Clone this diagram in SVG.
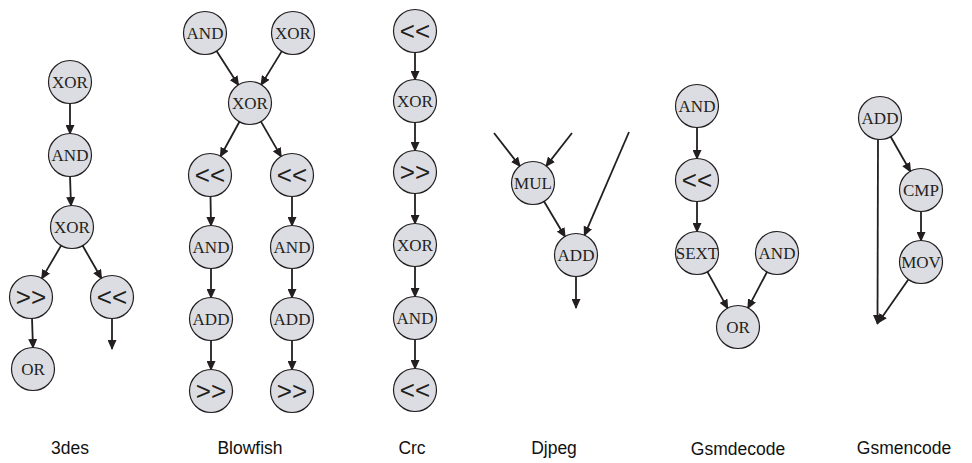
<svg xmlns="http://www.w3.org/2000/svg" width="972" height="463" viewBox="0 0 972 463">
  <style>
    .node circle { fill: #dcdde2; stroke: #231f20; stroke-width: 1.2; }
    .node text { font-family: "Liberation Serif", "Times New Roman", serif; font-size: 17px; fill: #231f20; text-anchor: middle; dominant-baseline: central; }
    .node text.op { font-family: "Liberation Sans", Arial, sans-serif; font-size: 26px; }
    .edges line { stroke: #231f20; stroke-width: 1.8; marker-end: url(#arrow); }
    .caption { font-family: "Liberation Sans", Arial, sans-serif; font-size: 17.5px; fill: #111; text-anchor: middle; }
  </style>
  <defs>
    <marker id="arrow" markerUnits="userSpaceOnUse" markerWidth="10" markerHeight="9" refX="9" refY="4.5" orient="auto">
      <path d="M0,0 L10,4.5 L0,9 z" fill="#231f20"/>
    </marker>
  </defs>
  <rect width="972" height="463" fill="#ffffff"/>

  <!-- connectors -->
  <g id="connectors" class="edges">
    <!-- 3des -->
    <line x1="70" y1="103" x2="70" y2="134"/>
    <line x1="70" y1="176" x2="71" y2="206"/>
    <line x1="61.4" y1="245.1" x2="41.6" y2="278.9"/>
    <line x1="82.4" y1="245.2" x2="101.6" y2="278.8"/>
    <line x1="32" y1="318" x2="33" y2="348"/>
    <line x1="112" y1="318" x2="112" y2="349"/>
    <!-- Blowfish -->
    <line x1="216.4" y1="50.7" x2="238.6" y2="85.3"/>
    <line x1="282" y1="50.9" x2="261" y2="85.1"/>
    <line x1="239.7" y1="121.3" x2="220.3" y2="156.7"/>
    <line x1="260.7" y1="121.1" x2="281.3" y2="156.9"/>
    <line x1="210.5" y1="196" x2="211" y2="226"/>
    <line x1="211" y1="268" x2="211" y2="298"/>
    <line x1="211" y1="340" x2="211" y2="370"/>
    <line x1="292" y1="196" x2="292" y2="226"/>
    <line x1="292" y1="268" x2="292" y2="298"/>
    <line x1="292" y1="340" x2="292" y2="370"/>
    <!-- Crc -->
    <line x1="415" y1="52" x2="415" y2="80"/>
    <line x1="415" y1="122" x2="415" y2="151"/>
    <line x1="415" y1="193" x2="415" y2="224"/>
    <line x1="415" y1="266" x2="415" y2="297"/>
    <line x1="415" y1="339" x2="415" y2="369"/>
    <!-- Djpeg -->
    <line x1="494" y1="133" x2="520.1" y2="166.4"/>
    <line x1="572" y1="133" x2="545.9" y2="166.4"/>
    <line x1="543.8" y1="201" x2="565.2" y2="237"/>
    <line x1="629" y1="132" x2="584.3" y2="235.7"/>
    <line x1="576" y1="276" x2="576" y2="308"/>
    <!-- Gsmdecode -->
    <line x1="697" y1="127" x2="697" y2="159"/>
    <line x1="697" y1="201" x2="697" y2="232"/>
    <line x1="707.2" y1="271.4" x2="727.8" y2="308.6"/>
    <line x1="767.2" y1="271.6" x2="747.8" y2="308.4"/>
    <!-- Gsmencode -->
    <line x1="890.4" y1="136.2" x2="910.6" y2="171.8"/>
    <line x1="921" y1="211" x2="921" y2="241"/>
    <line x1="878" y1="139" x2="877.5" y2="324"/>
    <line x1="908.7" y1="279" x2="878" y2="323"/>
  </g>

  <!-- 3des -->
  <g id="des_xor1" class="node"><circle cx="70" cy="82" r="21.5"/><text x="70" y="82">XOR</text></g>
  <g id="des_and" class="node"><circle cx="70" cy="155" r="21.5"/><text x="70" y="155">AND</text></g>
  <g id="des_xor2" class="node"><circle cx="72" cy="227" r="21.5"/><text x="72" y="227">XOR</text></g>
  <g id="des_shr" class="node"><circle cx="31" cy="297" r="21.5"/><text class="op" x="31" y="297">&gt;&gt;</text></g>
  <g id="des_shl" class="node"><circle cx="112" cy="297" r="21.5"/><text class="op" x="112" y="297">&lt;&lt;</text></g>
  <g id="des_or" class="node"><circle cx="33" cy="369" r="21.5"/><text x="33" y="369">OR</text></g>

  <!-- Blowfish -->
  <g id="bf_and0" class="node"><circle cx="205" cy="33" r="21.5"/><text x="205" y="33">AND</text></g>
  <g id="bf_xor0" class="node"><circle cx="293" cy="33" r="21.5"/><text x="293" y="33">XOR</text></g>
  <g id="bf_xor1" class="node"><circle cx="250" cy="103" r="21.5"/><text x="250" y="103">XOR</text></g>
  <g id="bf_shl_l" class="node"><circle cx="210" cy="175" r="21.5"/><text class="op" x="210" y="175">&lt;&lt;</text></g>
  <g id="bf_shl_r" class="node"><circle cx="292" cy="175" r="21.5"/><text class="op" x="292" y="175">&lt;&lt;</text></g>
  <g id="bf_and_l" class="node"><circle cx="211" cy="247" r="21.5"/><text x="211" y="247">AND</text></g>
  <g id="bf_and_r" class="node"><circle cx="292" cy="247" r="21.5"/><text x="292" y="247">AND</text></g>
  <g id="bf_add_l" class="node"><circle cx="211" cy="319" r="21.5"/><text x="211" y="319">ADD</text></g>
  <g id="bf_add_r" class="node"><circle cx="292" cy="319" r="21.5"/><text x="292" y="319">ADD</text></g>
  <g id="bf_shr_l" class="node"><circle cx="211" cy="391" r="21.5"/><text class="op" x="211" y="391">&gt;&gt;</text></g>
  <g id="bf_shr_r" class="node"><circle cx="292" cy="391" r="21.5"/><text class="op" x="292" y="391">&gt;&gt;</text></g>

  <!-- Crc -->
  <g id="crc_shl1" class="node"><circle cx="415" cy="31" r="21.5"/><text class="op" x="415" y="31">&lt;&lt;</text></g>
  <g id="crc_xor1" class="node"><circle cx="415" cy="101" r="21.5"/><text x="415" y="101">XOR</text></g>
  <g id="crc_shr" class="node"><circle cx="415" cy="172" r="21.5"/><text class="op" x="415" y="172">&gt;&gt;</text></g>
  <g id="crc_xor2" class="node"><circle cx="415" cy="245" r="21.5"/><text x="415" y="245">XOR</text></g>
  <g id="crc_and" class="node"><circle cx="415" cy="318" r="21.5"/><text x="415" y="318">AND</text></g>
  <g id="crc_shl2" class="node"><circle cx="415" cy="390" r="21.5"/><text class="op" x="415" y="390">&lt;&lt;</text></g>

  <!-- Djpeg -->
  <g id="dj_mul" class="node"><circle cx="533" cy="183" r="21.5"/><text x="533" y="183">MUL</text></g>
  <g id="dj_add" class="node"><circle cx="576" cy="255" r="21.5"/><text x="576" y="255">ADD</text></g>

  <!-- Gsmdecode -->
  <g id="gd_and1" class="node"><circle cx="697" cy="106" r="21.5"/><text x="697" y="106">AND</text></g>
  <g id="gd_shl" class="node"><circle cx="697" cy="180" r="21.5"/><text class="op" x="697" y="180">&lt;&lt;</text></g>
  <g id="gd_sext" class="node"><circle cx="697" cy="253" r="21.5"/><text x="697" y="253">SEXT</text></g>
  <g id="gd_and2" class="node"><circle cx="777" cy="253" r="21.5"/><text x="777" y="253">AND</text></g>
  <g id="gd_or" class="node"><circle cx="738" cy="327" r="21.5"/><text x="738" y="327">OR</text></g>

  <!-- Gsmencode -->
  <g id="ge_add" class="node"><circle cx="880" cy="118" r="21.5"/><text x="880" y="118">ADD</text></g>
  <g id="ge_cmp" class="node"><circle cx="921" cy="190" r="21.5"/><text x="921" y="190">CMP</text></g>
  <g id="ge_mov" class="node"><circle cx="921" cy="262" r="21.5"/><text x="921" y="262">MOV</text></g>

  <!-- captions -->
  <g id="captions">
    <text class="caption" x="70" y="454">3des</text>
    <text class="caption" x="250" y="454">Blowfish</text>
    <text class="caption" x="412" y="454">Crc</text>
    <text class="caption" x="554" y="454">Djpeg</text>
    <text class="caption" x="738" y="455">Gsmdecode</text>
    <text class="caption" x="904" y="454">Gsmencode</text>
  </g>
</svg>
